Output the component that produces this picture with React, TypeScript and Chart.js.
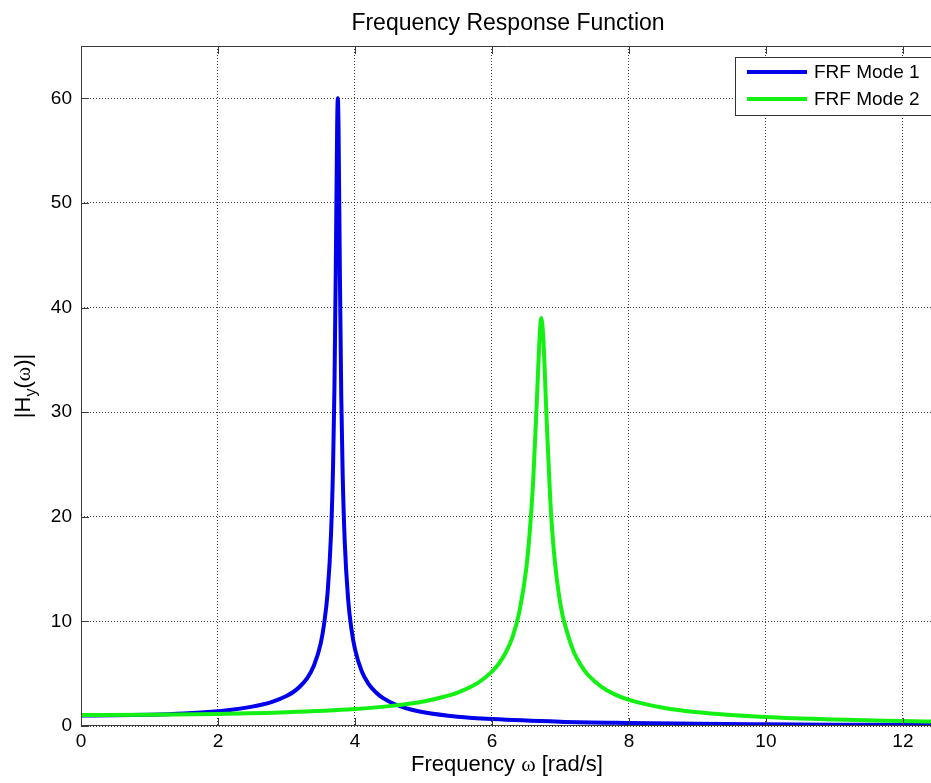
import React, { useEffect, useRef } from "react";
import { Chart, registerables } from "chart.js";

Chart.register(...registerables);

const chartTitle = "Frequency Response Function";
const seriesLabels = ["FRF Mode 1", "FRF Mode 2"];
const seriesColors = ["rgb(0,0,235)", "rgb(20,240,20)"];

// Mode 1 (blue)
const freqMode1 = [
  0, 0.5, 1, 1.5, 2, 2.2, 2.5, 2.65, 2.8, 3, 3.1, 3.2, 3.3, 3.4, 3.5, 3.55, 3.6, 3.65, 3.68, 3.7, 3.72, 3.74, 3.75,
  3.76, 3.78, 3.8, 3.82, 3.85, 3.9, 3.95, 4.0, 4.1, 4.2, 4.3, 4.4, 4.6, 4.8, 5, 5.5, 6, 7, 8, 9, 10, 11, 12, 12.5,
];
const hMode1 = [
  1.0, 1.02, 1.08, 1.2, 1.42, 1.55, 1.85, 2.05, 2.33, 2.87, 3.25, 3.8, 4.55, 5.75, 7.9, 9.8, 12.7, 18.3, 24.8, 32.2, 43.7, 57.4, 60,
  57.2, 43.0, 31.5, 24.2, 17.7, 12.1, 9.2, 7.35, 5.2, 4.0, 3.25, 2.72, 2.03, 1.6, 1.32, 0.89, 0.66, 0.41, 0.29, 0.21, 0.165, 0.13, 0.11, 0.1,
];

// Mode 2 (green)
const freqMode2 = [
  0, 1, 2, 3, 4, 4.5, 5, 5.3, 5.5, 5.8, 6, 6.1, 6.2, 6.3, 6.4, 6.5, 6.55, 6.6, 6.65, 6.7, 6.72, 6.75,
  6.8, 6.85, 6.9, 7.0, 7.1, 7.2, 7.3, 7.4, 7.6, 7.8, 8, 8.5, 9, 10, 11, 12, 12.5,
];
const hMode2 = [
  1.05, 1.07, 1.15, 1.31, 1.62, 1.9, 2.35, 2.8, 3.2, 4.15, 5.2, 5.95, 7.0, 8.5, 10.9, 15.0, 18.4, 23.2, 30.3, 37.6, 39.0, 37.0,
  29.0, 21.8, 17.0, 11.6, 8.9, 7.0, 5.8, 4.9, 3.75, 3.0, 2.5, 1.75, 1.32, 0.86, 0.62, 0.48, 0.42,
];

const X_MIN = 0;
const X_MAX = 12.41;
const Y_MIN = 0;
const Y_MAX = 65;

const SANS = "'Liberation Sans', Arial, sans-serif";
const SERIF = "'Liberation Serif', 'DejaVu Serif', serif";

const decorPlugin = {
  id: "matlabDecor",
  afterDraw(chart: any) {
    const { ctx, chartArea: a, scales } = chart;
    const xs = scales.x;
    const ys = scales.y;
    ctx.save();

    // axes box
    ctx.strokeStyle = "#3a3a3a";
    ctx.lineWidth = 1;
    ctx.setLineDash([]);
    ctx.beginPath();
    ctx.moveTo(a.right + 5, a.top + 0.5);
    ctx.lineTo(a.left + 0.5, a.top + 0.5);
    ctx.lineTo(a.left + 0.5, a.bottom - 0.5);
    ctx.lineTo(a.right + 5, a.bottom - 0.5);
    ctx.stroke();

    // inward tick marks
    const tl = 8;
    ctx.beginPath();
    xs.ticks.forEach((t: any) => {
      const px = Math.round(xs.getPixelForValue(t.value)) + 0.5;
      ctx.moveTo(px, a.bottom);
      ctx.lineTo(px, a.bottom - tl);
      ctx.moveTo(px, a.top);
      ctx.lineTo(px, a.top + tl);
    });
    ys.ticks.forEach((t: any) => {
      const py = Math.round(ys.getPixelForValue(t.value)) + 0.5;
      ctx.moveTo(a.left, py);
      ctx.lineTo(a.left + tl, py);
    });
    ctx.stroke();

    // title
    ctx.fillStyle = "#000";
    ctx.textBaseline = "alphabetic";
    ctx.textAlign = "center";
    ctx.font = `23px ${SANS}`;
    ctx.fillText(chartTitle, 508, 30);

    // x label: Frequency ω [rad/s]
    const lblSize = 22;
    const xParts: [string, string][] = [
      ["Frequency ", `${lblSize}px ${SANS}`],
      ["\u03c9", `${lblSize}px ${SERIF}`],
      [" [rad/s]", `${lblSize}px ${SANS}`],
    ];
    ctx.textAlign = "left";
    let total = 0;
    xParts.forEach(([s, f]) => {
      ctx.font = f;
      total += ctx.measureText(s).width;
    });
    let cx = 507 - total / 2;
    xParts.forEach(([s, f]) => {
      ctx.font = f;
      ctx.fillText(s, cx, 771);
      cx += ctx.measureText(s).width;
    });

    // y label: |H_y(ω)|
    const yParts: [string, string, number][] = [
      ["|H", `${lblSize}px ${SANS}`, 0],
      ["y", `16px ${SANS}`, 6],
      ["(", `${lblSize}px ${SANS}`, 0],
      ["\u03c9", `${lblSize}px ${SERIF}`, 0],
      [")|", `${lblSize}px ${SANS}`, 0],
    ];
    ctx.save();
    ctx.translate(30, 386);
    ctx.rotate(-Math.PI / 2);
    total = 0;
    yParts.forEach(([s, f]) => {
      ctx.font = f;
      total += ctx.measureText(s).width;
    });
    let lx = -total / 2;
    yParts.forEach(([s, f, dy]) => {
      ctx.font = f;
      ctx.fillText(s, lx, dy);
      lx += ctx.measureText(s).width;
    });
    ctx.restore();

    // legend
    const lx0 = 735.5;
    const ly0 = 57.5;
    ctx.fillStyle = "#fff";
    ctx.fillRect(lx0, ly0, 220, 58);
    ctx.strokeStyle = "#333";
    ctx.lineWidth = 1;
    ctx.strokeRect(lx0, ly0, 220, 58);
    const rows = [72, 99];
    chart.data.datasets.forEach((ds: any) => {
      const idx = seriesLabels.indexOf(ds.label);
      const y = rows[idx];
      ctx.strokeStyle = ds.borderColor;
      ctx.lineWidth = 4;
      ctx.beginPath();
      ctx.moveTo(747, y);
      ctx.lineTo(807, y);
      ctx.stroke();
      ctx.fillStyle = "#000";
      ctx.font = `19px ${SANS}`;
      ctx.textBaseline = "middle";
      ctx.textAlign = "left";
      ctx.fillText(ds.label, 814, y + 1);
    });

    ctx.restore();
  },
};

export default function App() {
  const canvasRef = useRef<HTMLCanvasElement | null>(null);

  useEffect(() => {
    document.body.style.margin = "0";
    const canvas = canvasRef.current;
    if (!canvas) return;

    const mode1 = freqMode1.map((x, i) => ({ x, y: hMode1[i] }));
    const mode2 = freqMode2.map((x, i) => ({ x, y: hMode2[i] }));

    const chart = new Chart(canvas, {
      type: "line",
      data: {
        datasets: [
          {
            label: seriesLabels[0],
            data: mode1,
            borderColor: seriesColors[0],
            backgroundColor: seriesColors[0],
            borderWidth: 4,
            pointRadius: 0,
            cubicInterpolationMode: "monotone",
            order: 1,
          },
          {
            label: seriesLabels[1],
            data: mode2,
            borderColor: seriesColors[1],
            backgroundColor: seriesColors[1],
            borderWidth: 4,
            pointRadius: 0,
            cubicInterpolationMode: "monotone",
            order: 0,
          },
        ],
      },
      options: {
        animation: false,
        responsive: false,
        devicePixelRatio: 1,
        layout: { padding: { top: 46, left: 0, right: 0, bottom: 0 } },
        plugins: {
          legend: { display: false },
          title: { display: false },
          tooltip: { enabled: false },
        },
        scales: {
          x: {
            type: "linear",
            min: X_MIN,
            max: X_MAX,
            afterFit: (s: any) => {
              s.height = 57;
            },
            ticks: {
              stepSize: 2,
              includeBounds: false,
              autoSkip: false,
              maxRotation: 0,
              color: "#000",
              padding: 4,
              font: { family: SANS, size: 19 },
            },
            grid: {
              color: "rgba(0,0,0,0.75)",
              lineWidth: 1,
              drawTicks: false,
            },
            border: { display: false, dash: [1, 2] },
          },
          y: {
            type: "linear",
            min: Y_MIN,
            max: Y_MAX,
            afterFit: (s: any) => {
              s.width = 81;
            },
            ticks: {
              stepSize: 10,
              includeBounds: false,
              color: "#000",
              padding: 9,
              font: { family: SANS, size: 19 },
            },
            grid: {
              color: "rgba(0,0,0,0.75)",
              lineWidth: 1,
              drawTicks: false,
            },
            border: { display: false, dash: [1, 2] },
          },
        },
      },
      plugins: [decorPlugin],
    });

    return () => chart.destroy();
  }, []);

  return (
    <div style={{ width: 931, height: 783, background: "#fff" }}>
      <canvas ref={canvasRef} width={931} height={783} style={{ display: "block" }} />
    </div>
  );
}
